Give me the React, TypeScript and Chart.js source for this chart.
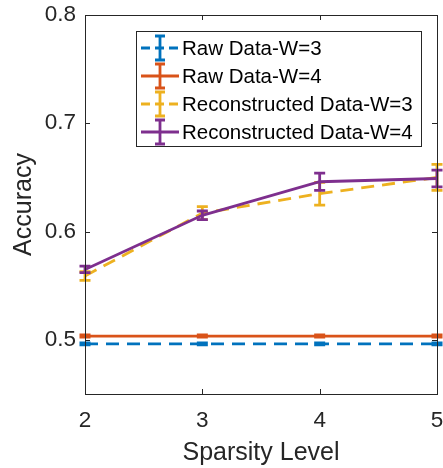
import React, { useEffect, useRef } from 'react';
import { Chart, registerables } from 'chart.js';

Chart.register(...registerables);

// ---- Data ----
const sparsity = [2, 3, 4, 5];
const xTicks = [2, 3, 4, 5];
const yTicks = [0.5, 0.6, 0.7, 0.8];

const seriesLabels = [
  'Raw Data-W=3',
  'Raw Data-W=4',
  'Reconstructed Data-W=3',
  'Reconstructed Data-W=4',
];
const seriesColors = ['#0072BD', '#D95319', '#EDB120', '#7E2F8E'];
const seriesDashed = [true, false, true, false];

const rawW3 = [0.4963, 0.4963, 0.4963, 0.4963];
const rawW3Err = [0.001, 0.001, 0.001, 0.001];
const rawW4 = [0.5035, 0.5035, 0.5035, 0.5035];
const rawW4Err = [0.001, 0.001, 0.001, 0.001];
const recW3 = [0.559, 0.617, 0.635, 0.650];
const recW3Err = [0.004, 0.006, 0.0105, 0.012];
const recW4 = [0.565, 0.615, 0.646, 0.649];
const recW4Err = [0.003, 0.004, 0.008, 0.0078];

const seriesValues = [rawW3, rawW4, recW3, recW4];
const seriesErrors = [rawW3Err, rawW4Err, recW3Err, recW4Err];

const FONT = '"Liberation Sans", Arial, Helvetica, sans-serif';
const TEXT = '#262626';
const DASH = [13, 8];
const LW = 2.8;

const errorBarPlugin = {
  id: 'errorBars',
  afterDatasetDraw(chart: any, args: any) {
    const idx = args.index;
    const errs = seriesErrors[idx];
    const vals = seriesValues[idx];
    if (!errs) return;
    const xs = chart.scales.x;
    const ys = chart.scales.y;
    const ctx = chart.ctx;
    ctx.save();
    ctx.strokeStyle = seriesColors[idx];
    ctx.lineWidth = LW;
    ctx.setLineDash([]);
    const cap = 5.5;
    for (let i = 0; i < vals.length; i++) {
      const x = xs.getPixelForValue(sparsity[i]);
      const yT = ys.getPixelForValue(vals[i] + errs[i]);
      const yB = ys.getPixelForValue(vals[i] - errs[i]);
      ctx.beginPath();
      ctx.moveTo(x, yT);
      ctx.lineTo(x, yB);
      ctx.moveTo(x - cap, yT);
      ctx.lineTo(x + cap, yT);
      ctx.moveTo(x - cap, yB);
      ctx.lineTo(x + cap, yB);
      ctx.stroke();
    }
    ctx.restore();
  },
};

const framePlugin = {
  id: 'frame',
  afterDraw(chart: any) {
    const { left, right, top, bottom } = chart.chartArea;
    const ctx = chart.ctx;
    const xs = chart.scales.x;
    const ys = chart.scales.y;
    ctx.save();
    ctx.strokeStyle = TEXT;
    ctx.lineWidth = 1;
    ctx.setLineDash([]);
    ctx.strokeRect(Math.round(left) + 0.5, Math.round(top) + 0.5, Math.round(right - left), Math.round(bottom - top));
    const tl = 5;
    ctx.beginPath();
    xTicks.forEach((v) => {
      const x = Math.round(xs.getPixelForValue(v)) + 0.5;
      ctx.moveTo(x, bottom);
      ctx.lineTo(x, bottom - tl);
      ctx.moveTo(x, top);
      ctx.lineTo(x, top + tl);
    });
    yTicks.forEach((v) => {
      const y = Math.round(ys.getPixelForValue(v)) + 0.5;
      ctx.moveTo(left, y);
      ctx.lineTo(left + tl, y);
      ctx.moveTo(right, y);
      ctx.lineTo(right - tl, y);
    });
    ctx.stroke();

    // legend
    const bx = 136.5, by = 31.5, bw = 285, bh = 115;
    ctx.fillStyle = '#ffffff';
    ctx.fillRect(bx, by, bw, bh);
    ctx.strokeStyle = TEXT;
    ctx.lineWidth = 1;
    ctx.strokeRect(bx, by, bw, bh);
    const rowY = [48, 76, 104, 132];
    seriesLabels.forEach((label, i) => {
      const y = rowY[i];
      ctx.strokeStyle = seriesColors[i];
      ctx.lineWidth = LW;
      ctx.setLineDash(seriesDashed[i] ? [9, 5] : []);
      ctx.beginPath();
      ctx.moveTo(141, y);
      ctx.lineTo(179, y);
      ctx.stroke();
      ctx.setLineDash([]);
      ctx.beginPath();
      ctx.moveTo(160, y - 12);
      ctx.lineTo(160, y + 12);
      ctx.moveTo(155, y - 12);
      ctx.lineTo(165, y - 12);
      ctx.moveTo(155, y + 12);
      ctx.lineTo(165, y + 12);
      ctx.stroke();
      ctx.fillStyle = '#000000';
      ctx.font = `20.5px ${FONT}`;
      ctx.textAlign = 'left';
      ctx.textBaseline = 'middle';
      ctx.fillText(label, 182, y + 1);
    });
    ctx.restore();
  },
};

export default function App() {
  const ref = useRef<HTMLCanvasElement | null>(null);
  useEffect(() => {
    if (!ref.current) return;
    const datasets = seriesLabels.map((label, i) => ({
      label,
      data: sparsity.map((x, j) => ({ x, y: seriesValues[i][j] })),
      borderColor: seriesColors[i],
      backgroundColor: seriesColors[i],
      borderWidth: LW,
      borderDash: seriesDashed[i] ? DASH : [],
      pointRadius: 0,
      fill: false,
      tension: 0,
      order: 3 - i,
    }));
    const chart = new Chart(ref.current, {
      type: 'line',
      data: { datasets },
      options: {
        responsive: false,
        animation: false,
        devicePixelRatio: 1,
        layout: { padding: { left: 0, right: 6, top: 15, bottom: 0 } },
        plugins: { legend: { display: false }, tooltip: { enabled: false } },
        scales: {
          x: {
            type: 'linear',
            min: 2,
            max: 5,
            afterBuildTicks: (s: any) => {
              s.ticks = xTicks.map((v) => ({ value: v }));
            },
            afterFit: (s: any) => {
              s.height = 74;
              s.paddingLeft = 0;
              s.paddingRight = 0;
            },
            grid: { display: false, drawTicks: false },
            border: { display: false },
            ticks: {
              color: TEXT,
              font: { family: FONT, size: 22.5 },
              padding: 13,
              maxRotation: 0,
              callback: (v: any) => String(v),
            },
            title: {
              display: true,
              text: 'Sparsity Level',
              color: TEXT,
              font: { family: FONT, size: 25, lineHeight: 1.2 },
              padding: { top: 2, bottom: 0 },
            },
          },
          y: {
            type: 'linear',
            min: 0.45,
            max: 0.8,
            afterBuildTicks: (s: any) => {
              s.ticks = yTicks.map((v) => ({ value: v }));
            },
            afterFit: (s: any) => {
              s.width = 85;
              s.paddingTop = 0;
              s.paddingBottom = 0;
            },
            grid: { display: false, drawTicks: false },
            border: { display: false },
            ticks: {
              color: TEXT,
              font: { family: FONT, size: 22.5 },
              padding: 9,
              callback: (v: any) => Number(v).toFixed(1),
            },
            title: {
              display: true,
              text: 'Accuracy',
              color: TEXT,
              font: { family: FONT, size: 25, lineHeight: 1.2 },
              padding: { top: 9, bottom: 0 },
            },
          },
        },
      },
      plugins: [errorBarPlugin, framePlugin],
    });
    return () => chart.destroy();
  }, []);
  return (
    <div style={{ position: 'absolute', left: 0, top: 0, width: 443, height: 468, background: '#fff' }}>
      <canvas ref={ref} width={443} height={468} />
    </div>
  );
}
